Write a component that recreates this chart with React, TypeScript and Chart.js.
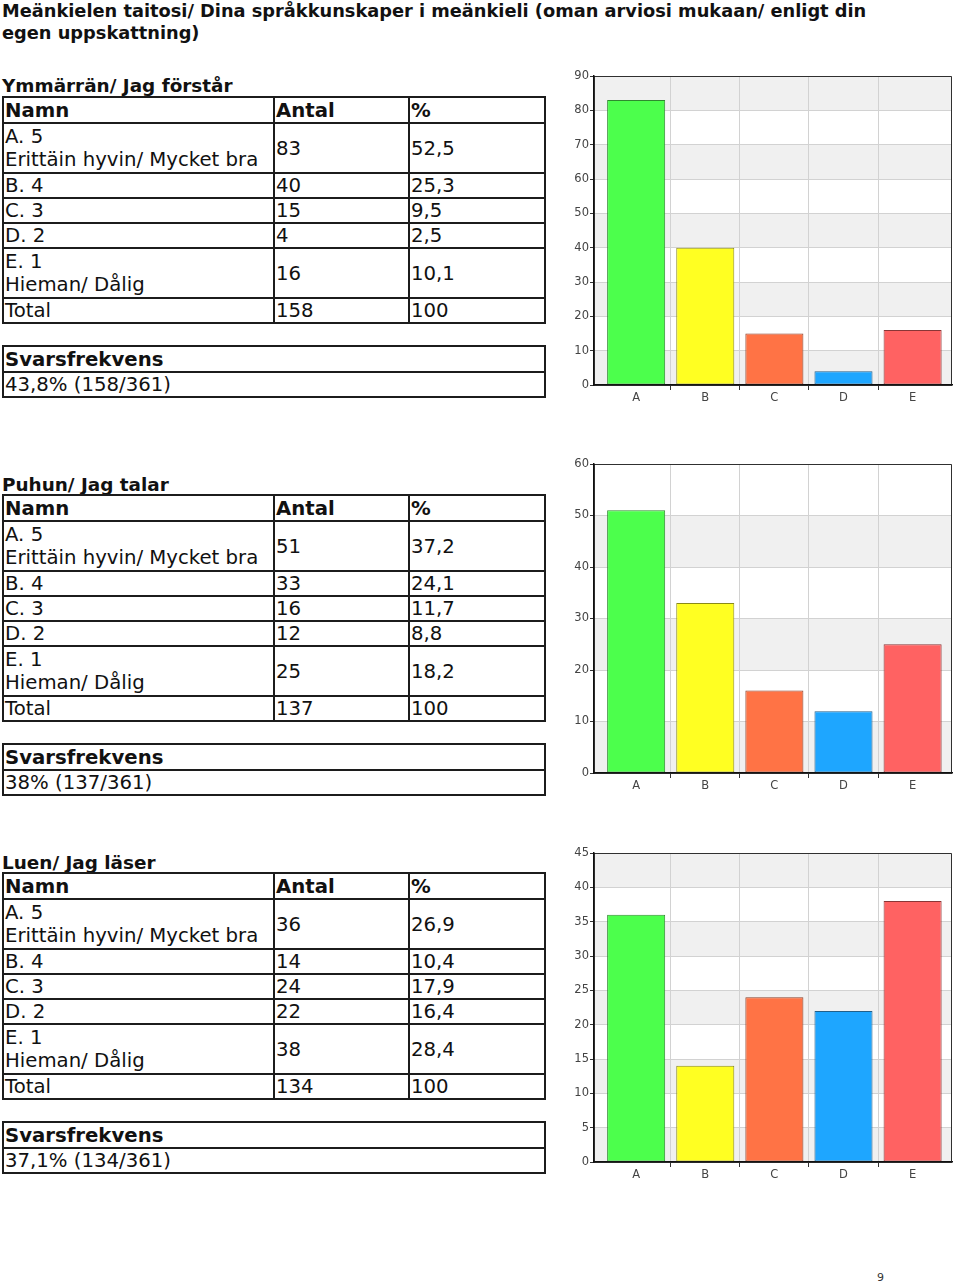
import React, { useEffect, useRef } from "react";
import { Chart, registerables } from "chart.js";

Chart.register(...registerables);

// ---------- data ----------
const PAGE_TITLE =
  "Meänkielen taitosi/ Dina språkkunskaper i meänkieli (oman arviosi mukaan/ enligt din egen uppskattning)";

const CATEGORIES = ["A", "B", "C", "D", "E"];
const ROW_NAMES: string[][] = [
  ["A. 5", "Erittäin hyvin/ Mycket bra"],
  ["B. 4"],
  ["C. 3"],
  ["D. 2"],
  ["E. 1", "Hieman/ Dålig"],
];

const UNDERSTAND_TITLE = "Ymmärrän/ Jag förstår";
const UNDERSTAND_COUNTS = [83, 40, 15, 4, 16];
const UNDERSTAND_PCT = ["52,5", "25,3", "9,5", "2,5", "10,1"];
const UNDERSTAND_TOTAL = "158";
const UNDERSTAND_RATE = "43,8% (158/361)";
const UNDERSTAND_Y_TICKS = [0, 90, 10];

const SPEAK_TITLE = "Puhun/ Jag talar";
const SPEAK_COUNTS = [51, 33, 16, 12, 25];
const SPEAK_PCT = ["37,2", "24,1", "11,7", "8,8", "18,2"];
const SPEAK_TOTAL = "137";
const SPEAK_RATE = "38% (137/361)";
const SPEAK_Y_TICKS = [0, 60, 10];

const READ_TITLE = "Luen/ Jag läser";
const READ_COUNTS = [36, 14, 24, 22, 38];
const READ_PCT = ["26,9", "10,4", "17,9", "16,4", "28,4"];
const READ_TOTAL = "134";
const READ_RATE = "37,1% (134/361)";
const READ_Y_TICKS = [0, 45, 5];

const BAR_FILLS = ["#4cff4c", "#ffff22", "#ff7345", "#1ea6ff", "#ff6262"];
const BAR_BORDERS = ["#2f8a2f", "#8a8a18", "#8a3f28", "#22608a", "#8a3636"];

// ---------- styles ----------
const FONT = '"DejaVu Sans", Verdana, sans-serif';
const LINE = "2px solid #1c1c1c";

const plotDecor = {
  id: "plotDecor",
  beforeDraw(chart: any) {
    const { ctx, chartArea: a, scales } = chart;
    const y = scales.y;
    ctx.save();
    ctx.fillStyle = "#ffffff";
    ctx.fillRect(a.left, a.top, a.width, a.height);
    const ticks = y.ticks;
    for (let i = 0; i < ticks.length - 1; i++) {
      if (i % 2 === 0) {
        const y0 = y.getPixelForValue(ticks[i].value);
        const y1 = y.getPixelForValue(ticks[i + 1].value);
        ctx.fillStyle = "#f0f0f0";
        ctx.fillRect(a.left, y1, a.width, y0 - y1);
      }
    }
    ctx.restore();
  },
  afterDraw(chart: any) {
    const { ctx, chartArea: a } = chart;
    ctx.save();
    ctx.strokeStyle = "#303030";
    ctx.lineWidth = 1;
    ctx.beginPath();
    ctx.moveTo(a.left, a.top + 0.5);
    ctx.lineTo(a.right - 0.5, a.top + 0.5);
    ctx.lineTo(a.right - 0.5, a.bottom);
    ctx.stroke();
    ctx.strokeStyle = "#111";
    ctx.lineWidth = 1.5;
    ctx.beginPath();
    ctx.moveTo(a.left, a.bottom);
    ctx.lineTo(a.right, a.bottom);
    ctx.moveTo(a.left, a.top);
    ctx.lineTo(a.left, a.bottom);
    ctx.stroke();
    ctx.restore();
  },
};

function BarChart(props: { values: number[]; yTicks: number[]; top: number; height: number }) {
  const ref = useRef<HTMLCanvasElement | null>(null);
  const { values, yTicks, top, height } = props;
  useEffect(() => {
    if (!ref.current) return;
    const chart = new Chart(ref.current, {
      type: "bar",
      data: {
        datasets: [
          {
            data: values.map((v, i) => ({ x: i, y: v })),
            backgroundColor: BAR_FILLS,
            borderColor: BAR_BORDERS,
            borderWidth: 1,
            borderSkipped: false,
            categoryPercentage: 1,
            barPercentage: 0.84,
          },
        ],
      },
      options: {
        animation: false,
        responsive: false,
        devicePixelRatio: 1,
        layout: { padding: { left: 0, top: 12, right: 8, bottom: 0 } },
        plugins: { legend: { display: false }, tooltip: { enabled: false } },
        scales: {
          x: {
            type: "linear",
            offset: false,
            min: -0.61,
            max: 4.57,
            afterFit: (s: any) => {
              s.height = 24;
            },
            afterBuildTicks: (s: any) => {
              s.ticks = CATEGORIES.map((_, i) => ({ value: i }));
            },
            grid: {
              offset: true,
              color: (c: any) => (c.type === "tick" && c.index > 0 ? "#d2d2d2" : "rgba(0,0,0,0)"),
              tickColor: (c: any) => (c.type === "tick" && c.index > 0 ? "#333" : "rgba(0,0,0,0)"),
              tickLength: 5,
              lineWidth: 1,
            },
            border: { display: true, color: "#111", width: 1.5 },
            ticks: {
              autoSkip: false,
              maxRotation: 0,
              padding: 1,
              color: "#444",
              font: { family: FONT, size: 11.5 },
              callback: (v: any) => CATEGORIES[Math.round(Number(v))] ?? "",
            },
          },
          y: {
            type: "linear",
            min: yTicks[0],
            max: yTicks[1],
            afterFit: (s: any) => {
              s.width = 34;
            },
            grid: { color: "#d2d2d2", tickColor: "#333", tickLength: 4, lineWidth: 1 },
            border: { display: true, color: "#111", width: 1.5 },
            ticks: {
              stepSize: yTicks[2],
              padding: 1,
              color: "#444",
              font: { family: FONT, size: 11.5 },
            },
          },
        },
      },
      plugins: [plotDecor],
    } as any);
    return () => chart.destroy();
  }, [values, yTicks]);
  return (
    <canvas
      ref={ref}
      width={400}
      height={height}
      style={{ position: "absolute", left: 560, top, width: 400, height }}
    />
  );
}

const cell: React.CSSProperties = {
  border: LINE,
  padding: "0 0 0 1px",
  verticalAlign: "middle",
  textAlign: "left",
  lineHeight: "23px",
  fontSize: 19.7,
  fontFamily: FONT,
  color: "#111",
};

function DataTable(props: { top: number; counts: number[]; pct: string[]; total: string }) {
  const { top, counts, pct, total } = props;
  return (
    <table
      style={{
        position: "absolute",
        left: 2,
        top,
        width: 542,
        borderCollapse: "collapse",
        tableLayout: "fixed",
      }}
    >
      <colgroup>
        <col style={{ width: 271 }} />
        <col style={{ width: 135 }} />
        <col style={{ width: 136 }} />
      </colgroup>
      <tbody>
        <tr style={{ height: 26 }}>
          <td style={{ ...cell, fontWeight: "bold" }}>Namn</td>
          <td style={{ ...cell, fontWeight: "bold" }}>Antal</td>
          <td style={{ ...cell, fontWeight: "bold" }}>%</td>
        </tr>
        {ROW_NAMES.map((name, i) => (
          <tr key={i} style={{ height: name.length > 1 ? 50 : 25 }}>
            <td style={cell}>
              {name.map((n, j) => (
                <div key={j}>{n}</div>
              ))}
            </td>
            <td style={cell}>{counts[i]}</td>
            <td style={cell}>{pct[i]}</td>
          </tr>
        ))}
        <tr style={{ height: 25 }}>
          <td style={cell}>Total</td>
          <td style={cell}>{total}</td>
          <td style={cell}>100</td>
        </tr>
      </tbody>
    </table>
  );
}

function RateTable(props: { top: number; rate: string }) {
  return (
    <table
      style={{
        position: "absolute",
        left: 2,
        top: props.top,
        width: 544,
        borderCollapse: "collapse",
        tableLayout: "fixed",
      }}
    >
      <tbody>
        <tr style={{ height: 26 }}>
          <td style={{ ...cell, fontWeight: "bold" }}>Svarsfrekvens</td>
        </tr>
        <tr style={{ height: 25 }}>
          <td style={cell}>{props.rate}</td>
        </tr>
      </tbody>
    </table>
  );
}

const sectionTitle: React.CSSProperties = {
  position: "absolute",
  left: 2,
  fontFamily: FONT,
  fontWeight: "bold",
  fontSize: 18.4,
  lineHeight: "22px",
  color: "#111",
  whiteSpace: "nowrap",
};

export default function App() {
  return (
    <div
      style={{
        position: "absolute",
        left: 0,
        top: 0,
        width: 960,
        height: 1285,
        background: "#fff",
        overflow: "hidden",
      }}
    >
      <div
        style={{
          position: "absolute",
          left: 2,
          top: 0,
          width: 885,
          fontFamily: FONT,
          fontWeight: "bold",
          fontSize: 17.8,
          lineHeight: "22px",
          color: "#111",
        }}
      >
        {PAGE_TITLE}
      </div>

      <div style={{ ...sectionTitle, top: 75 }}>{UNDERSTAND_TITLE}</div>
      <DataTable top={96} counts={UNDERSTAND_COUNTS} pct={UNDERSTAND_PCT} total={UNDERSTAND_TOTAL} />
      <RateTable top={345} rate={UNDERSTAND_RATE} />
      <BarChart values={UNDERSTAND_COUNTS} yTicks={UNDERSTAND_Y_TICKS} top={64} height={345} />

      <div style={{ ...sectionTitle, top: 474 }}>{SPEAK_TITLE}</div>
      <DataTable top={494} counts={SPEAK_COUNTS} pct={SPEAK_PCT} total={SPEAK_TOTAL} />
      <RateTable top={743} rate={SPEAK_RATE} />
      <BarChart values={SPEAK_COUNTS} yTicks={SPEAK_Y_TICKS} top={452} height={345} />

      <div style={{ ...sectionTitle, top: 852 }}>{READ_TITLE}</div>
      <DataTable top={872} counts={READ_COUNTS} pct={READ_PCT} total={READ_TOTAL} />
      <RateTable top={1121} rate={READ_RATE} />
      <BarChart values={READ_COUNTS} yTicks={READ_Y_TICKS} top={841} height={345} />

      <div
        style={{
          position: "absolute",
          left: 877,
          top: 1271,
          fontFamily: FONT,
          fontSize: 11,
          color: "#333",
        }}
      >
        9
      </div>
    </div>
  );
}
